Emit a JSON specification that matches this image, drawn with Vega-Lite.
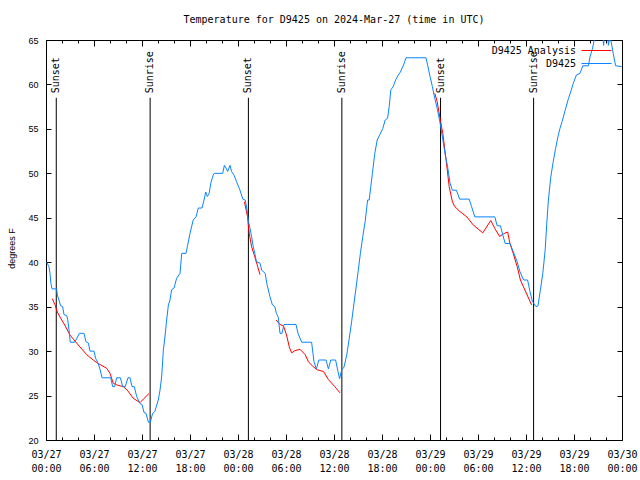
{
  "$schema": "https://vega.github.io/schema/vega-lite/v6.json",
  "width": 576,
  "height": 400,
  "autosize": {"type": "none"},
  "padding": {"left": 46, "top": 40, "right": 18, "bottom": 40},
  "background": "white",
  "title": {"text": "Temperature for D9425 on 2024-Mar-27 (time in UTC)", "font": "DejaVu Sans Mono", "fontSize": 10, "fontWeight": "normal", "color": "black", "offset": 11, "anchor": "middle"},
  "config": {
    "view": {"stroke": "black", "strokeWidth": 1},
    "axis": {"domain": false, "grid": false, "tickColor": "black", "labelColor": "black", "titleColor": "black"}
  },
  "datasets": {
    "sun": [
      {"t": "2024-03-27T01:17:00Z", "label": "Sunset"},
      {"t": "2024-03-27T13:01:00Z", "label": "Sunrise"},
      {"t": "2024-03-28T01:18:00Z", "label": "Sunset"},
      {"t": "2024-03-28T12:59:00Z", "label": "Sunrise"},
      {"t": "2024-03-29T01:19:00Z", "label": "Sunset"},
      {"t": "2024-03-29T12:57:00Z", "label": "Sunrise"}
    ],
    "ana": [
      {"t": "2024-03-27T00:47:00Z", "v": 35.9, "seg": "a"},
      {"t": "2024-03-27T01:08:00Z", "v": 35.2, "seg": "a"},
      {"t": "2024-03-27T01:25:00Z", "v": 34.4, "seg": "a"},
      {"t": "2024-03-27T01:50:00Z", "v": 33.7, "seg": "a"},
      {"t": "2024-03-27T02:22:00Z", "v": 32.9, "seg": "a"},
      {"t": "2024-03-27T03:00:00Z", "v": 31.8, "seg": "a"},
      {"t": "2024-03-27T03:50:00Z", "v": 30.9, "seg": "a"},
      {"t": "2024-03-27T05:05:00Z", "v": 29.6, "seg": "a"},
      {"t": "2024-03-27T05:54:00Z", "v": 29.0, "seg": "a"},
      {"t": "2024-03-27T06:32:00Z", "v": 28.6, "seg": "a"},
      {"t": "2024-03-27T07:35:00Z", "v": 28.07, "seg": "a"},
      {"t": "2024-03-27T08:00:00Z", "v": 27.5, "seg": "a"},
      {"t": "2024-03-27T08:24:00Z", "v": 26.4, "seg": "a"},
      {"t": "2024-03-27T08:50:00Z", "v": 26.2, "seg": "a"},
      {"t": "2024-03-27T09:40:00Z", "v": 26.0, "seg": "a"},
      {"t": "2024-03-27T10:10:00Z", "v": 25.6, "seg": "a"},
      {"t": "2024-03-27T10:54:00Z", "v": 24.7, "seg": "a"},
      {"t": "2024-03-27T11:45:00Z", "v": 24.2, "seg": "a"},
      {"t": "2024-03-27T12:10:00Z", "v": 24.6, "seg": "a"},
      {"t": "2024-03-27T12:54:00Z", "v": 25.25, "seg": "a"},
      {"t": "2024-03-28T00:48:00Z", "v": 46.8, "seg": "b"},
      {"t": "2024-03-28T01:12:00Z", "v": 45.1, "seg": "b"},
      {"t": "2024-03-28T01:24:00Z", "v": 43.25, "seg": "b"},
      {"t": "2024-03-28T01:42:00Z", "v": 41.75, "seg": "b"},
      {"t": "2024-03-28T02:06:00Z", "v": 40.6, "seg": "b"},
      {"t": "2024-03-28T02:24:00Z", "v": 39.7, "seg": "b"},
      {"t": "2024-03-28T02:45:00Z", "v": 38.6, "seg": "b"},
      {"t": "2024-03-28T04:45:00Z", "v": 33.5, "seg": "c"},
      {"t": "2024-03-28T05:15:00Z", "v": 33.0, "seg": "c"},
      {"t": "2024-03-28T05:42:00Z", "v": 32.8, "seg": "c"},
      {"t": "2024-03-28T06:06:00Z", "v": 31.7, "seg": "c"},
      {"t": "2024-03-28T06:24:00Z", "v": 30.5, "seg": "c"},
      {"t": "2024-03-28T06:42:00Z", "v": 29.8, "seg": "c"},
      {"t": "2024-03-28T07:06:00Z", "v": 30.05, "seg": "c"},
      {"t": "2024-03-28T07:45:00Z", "v": 30.2, "seg": "c"},
      {"t": "2024-03-28T08:24:00Z", "v": 29.6, "seg": "c"},
      {"t": "2024-03-28T08:48:00Z", "v": 28.8, "seg": "c"},
      {"t": "2024-03-28T09:24:00Z", "v": 28.25, "seg": "c"},
      {"t": "2024-03-28T09:54:00Z", "v": 27.9, "seg": "c"},
      {"t": "2024-03-28T10:42:00Z", "v": 27.7, "seg": "c"},
      {"t": "2024-03-28T11:18:00Z", "v": 26.8, "seg": "c"},
      {"t": "2024-03-28T12:06:00Z", "v": 26.0, "seg": "c"},
      {"t": "2024-03-28T12:45:00Z", "v": 25.3, "seg": "c"},
      {"t": "2024-03-29T00:36:00Z", "v": 59.0, "seg": "d"},
      {"t": "2024-03-29T00:54:00Z", "v": 58.05, "seg": "d"},
      {"t": "2024-03-29T01:15:00Z", "v": 56.2, "seg": "d"},
      {"t": "2024-03-29T01:36:00Z", "v": 54.5, "seg": "d"},
      {"t": "2024-03-29T02:00:00Z", "v": 51.6, "seg": "d"},
      {"t": "2024-03-29T02:24:00Z", "v": 48.5, "seg": "d"},
      {"t": "2024-03-29T02:48:00Z", "v": 46.8, "seg": "d"},
      {"t": "2024-03-29T03:06:00Z", "v": 46.25, "seg": "d"},
      {"t": "2024-03-29T03:45:00Z", "v": 45.7, "seg": "d"},
      {"t": "2024-03-29T04:36:00Z", "v": 45.1, "seg": "d"},
      {"t": "2024-03-29T05:24:00Z", "v": 44.2, "seg": "d"},
      {"t": "2024-03-29T06:36:00Z", "v": 43.3, "seg": "d"},
      {"t": "2024-03-29T07:36:00Z", "v": 44.7, "seg": "d"},
      {"t": "2024-03-29T08:06:00Z", "v": 43.8, "seg": "d"},
      {"t": "2024-03-29T08:42:00Z", "v": 42.9, "seg": "d"},
      {"t": "2024-03-29T09:12:00Z", "v": 43.2, "seg": "d"},
      {"t": "2024-03-29T09:42:00Z", "v": 43.4, "seg": "d"},
      {"t": "2024-03-29T10:00:00Z", "v": 42.1, "seg": "d"},
      {"t": "2024-03-29T10:24:00Z", "v": 41.0, "seg": "d"},
      {"t": "2024-03-29T10:54:00Z", "v": 39.5, "seg": "d"},
      {"t": "2024-03-29T11:18:00Z", "v": 38.0, "seg": "d"},
      {"t": "2024-03-29T11:45:00Z", "v": 37.1, "seg": "d"},
      {"t": "2024-03-29T12:12:00Z", "v": 36.2, "seg": "d"},
      {"t": "2024-03-29T12:42:00Z", "v": 35.2, "seg": "d"}
    ],
    "obs": [
      {"t": "2024-03-27T00:05:00Z", "v": 40},
      {"t": "2024-03-27T00:22:00Z", "v": 39.5},
      {"t": "2024-03-27T00:30:00Z", "v": 38.75},
      {"t": "2024-03-27T00:37:00Z", "v": 37.6},
      {"t": "2024-03-27T00:45:00Z", "v": 37},
      {"t": "2024-03-27T01:20:00Z", "v": 37},
      {"t": "2024-03-27T01:25:00Z", "v": 36.3},
      {"t": "2024-03-27T01:37:00Z", "v": 35.75},
      {"t": "2024-03-27T01:50:00Z", "v": 35.1},
      {"t": "2024-03-27T02:05:00Z", "v": 35},
      {"t": "2024-03-27T02:15:00Z", "v": 34.1},
      {"t": "2024-03-27T02:35:00Z", "v": 34},
      {"t": "2024-03-27T02:42:00Z", "v": 33.6},
      {"t": "2024-03-27T02:52:00Z", "v": 32.45},
      {"t": "2024-03-27T03:02:00Z", "v": 31},
      {"t": "2024-03-27T03:35:00Z", "v": 31},
      {"t": "2024-03-27T03:50:00Z", "v": 31.4},
      {"t": "2024-03-27T04:10:00Z", "v": 32},
      {"t": "2024-03-27T04:45:00Z", "v": 32},
      {"t": "2024-03-27T05:00:00Z", "v": 31.06},
      {"t": "2024-03-27T05:18:00Z", "v": 30.9},
      {"t": "2024-03-27T05:30:00Z", "v": 30},
      {"t": "2024-03-27T06:00:00Z", "v": 30},
      {"t": "2024-03-27T06:12:00Z", "v": 29.2},
      {"t": "2024-03-27T06:32:00Z", "v": 28.6},
      {"t": "2024-03-27T06:45:00Z", "v": 27.95},
      {"t": "2024-03-27T07:00:00Z", "v": 27},
      {"t": "2024-03-27T08:05:00Z", "v": 27},
      {"t": "2024-03-27T08:20:00Z", "v": 26},
      {"t": "2024-03-27T08:35:00Z", "v": 26},
      {"t": "2024-03-27T08:50:00Z", "v": 27},
      {"t": "2024-03-27T09:18:00Z", "v": 27},
      {"t": "2024-03-27T09:35:00Z", "v": 26},
      {"t": "2024-03-27T09:54:00Z", "v": 26},
      {"t": "2024-03-27T10:15:00Z", "v": 27},
      {"t": "2024-03-27T10:30:00Z", "v": 27},
      {"t": "2024-03-27T10:45:00Z", "v": 26},
      {"t": "2024-03-27T11:02:00Z", "v": 26},
      {"t": "2024-03-27T11:20:00Z", "v": 24.9},
      {"t": "2024-03-27T11:45:00Z", "v": 24.1},
      {"t": "2024-03-27T12:00:00Z", "v": 24},
      {"t": "2024-03-27T12:15:00Z", "v": 23.1},
      {"t": "2024-03-27T12:30:00Z", "v": 23},
      {"t": "2024-03-27T12:48:00Z", "v": 22},
      {"t": "2024-03-27T13:02:00Z", "v": 22},
      {"t": "2024-03-27T13:20:00Z", "v": 23},
      {"t": "2024-03-27T13:36:00Z", "v": 23.2},
      {"t": "2024-03-27T14:02:00Z", "v": 24.5},
      {"t": "2024-03-27T14:15:00Z", "v": 25.6},
      {"t": "2024-03-27T14:28:00Z", "v": 27.2},
      {"t": "2024-03-27T14:40:00Z", "v": 30.1},
      {"t": "2024-03-27T14:52:00Z", "v": 31.6},
      {"t": "2024-03-27T15:05:00Z", "v": 33.5},
      {"t": "2024-03-27T15:18:00Z", "v": 35.2},
      {"t": "2024-03-27T15:30:00Z", "v": 35.75},
      {"t": "2024-03-27T15:42:00Z", "v": 36.9},
      {"t": "2024-03-27T16:00:00Z", "v": 37.1},
      {"t": "2024-03-27T16:20:00Z", "v": 38.2},
      {"t": "2024-03-27T16:45:00Z", "v": 38.75},
      {"t": "2024-03-27T16:58:00Z", "v": 41},
      {"t": "2024-03-27T17:30:00Z", "v": 41},
      {"t": "2024-03-27T17:40:00Z", "v": 41.75},
      {"t": "2024-03-27T18:00:00Z", "v": 43.25},
      {"t": "2024-03-27T18:24:00Z", "v": 44.75},
      {"t": "2024-03-27T18:45:00Z", "v": 45.1},
      {"t": "2024-03-27T19:02:00Z", "v": 46.1},
      {"t": "2024-03-27T19:30:00Z", "v": 46.1},
      {"t": "2024-03-27T19:45:00Z", "v": 47},
      {"t": "2024-03-27T19:58:00Z", "v": 47.9},
      {"t": "2024-03-27T20:10:00Z", "v": 47.4},
      {"t": "2024-03-27T20:24:00Z", "v": 47.75},
      {"t": "2024-03-27T20:36:00Z", "v": 48.9},
      {"t": "2024-03-27T20:54:00Z", "v": 49.8},
      {"t": "2024-03-27T21:02:00Z", "v": 50},
      {"t": "2024-03-27T22:05:00Z", "v": 50},
      {"t": "2024-03-27T22:18:00Z", "v": 50.9},
      {"t": "2024-03-27T22:30:00Z", "v": 50.6},
      {"t": "2024-03-27T22:42:00Z", "v": 50.2},
      {"t": "2024-03-27T23:00:00Z", "v": 50.9},
      {"t": "2024-03-27T23:12:00Z", "v": 50.2},
      {"t": "2024-03-27T23:30:00Z", "v": 49.8},
      {"t": "2024-03-27T23:48:00Z", "v": 49.1},
      {"t": "2024-03-28T00:15:00Z", "v": 48.1},
      {"t": "2024-03-28T00:36:00Z", "v": 47.1},
      {"t": "2024-03-28T00:54:00Z", "v": 47},
      {"t": "2024-03-28T01:06:00Z", "v": 46.1},
      {"t": "2024-03-28T01:18:00Z", "v": 44.6},
      {"t": "2024-03-28T01:30:00Z", "v": 43.8},
      {"t": "2024-03-28T01:42:00Z", "v": 42.9},
      {"t": "2024-03-28T01:54:00Z", "v": 41.75},
      {"t": "2024-03-28T02:06:00Z", "v": 41},
      {"t": "2024-03-28T02:18:00Z", "v": 40.06},
      {"t": "2024-03-28T02:45:00Z", "v": 39.9},
      {"t": "2024-03-28T02:58:00Z", "v": 39.1},
      {"t": "2024-03-28T03:24:00Z", "v": 38.75},
      {"t": "2024-03-28T03:36:00Z", "v": 37.6},
      {"t": "2024-03-28T04:00:00Z", "v": 36.1},
      {"t": "2024-03-28T04:18:00Z", "v": 35.2},
      {"t": "2024-03-28T04:36:00Z", "v": 35},
      {"t": "2024-03-28T04:48:00Z", "v": 34.25},
      {"t": "2024-03-28T05:02:00Z", "v": 33.8},
      {"t": "2024-03-28T05:15:00Z", "v": 32},
      {"t": "2024-03-28T05:30:00Z", "v": 32},
      {"t": "2024-03-28T05:45:00Z", "v": 33},
      {"t": "2024-03-28T07:15:00Z", "v": 33},
      {"t": "2024-03-28T07:30:00Z", "v": 32},
      {"t": "2024-03-28T07:58:00Z", "v": 31},
      {"t": "2024-03-28T09:12:00Z", "v": 31},
      {"t": "2024-03-28T09:30:00Z", "v": 28.8},
      {"t": "2024-03-28T09:48:00Z", "v": 28},
      {"t": "2024-03-28T10:06:00Z", "v": 29},
      {"t": "2024-03-28T11:00:00Z", "v": 29},
      {"t": "2024-03-28T11:18:00Z", "v": 28},
      {"t": "2024-03-28T11:36:00Z", "v": 29},
      {"t": "2024-03-28T12:12:00Z", "v": 29},
      {"t": "2024-03-28T12:30:00Z", "v": 27.7},
      {"t": "2024-03-28T12:42:00Z", "v": 26.9},
      {"t": "2024-03-28T12:58:00Z", "v": 27.9},
      {"t": "2024-03-28T13:15:00Z", "v": 28.2},
      {"t": "2024-03-28T13:36:00Z", "v": 29.6},
      {"t": "2024-03-28T13:54:00Z", "v": 31.4},
      {"t": "2024-03-28T14:12:00Z", "v": 33.3},
      {"t": "2024-03-28T14:30:00Z", "v": 35.4},
      {"t": "2024-03-28T14:45:00Z", "v": 37.1},
      {"t": "2024-03-28T15:02:00Z", "v": 39.1},
      {"t": "2024-03-28T15:18:00Z", "v": 41},
      {"t": "2024-03-28T15:36:00Z", "v": 42.9},
      {"t": "2024-03-28T15:54:00Z", "v": 44.6},
      {"t": "2024-03-28T16:12:00Z", "v": 47},
      {"t": "2024-03-28T16:24:00Z", "v": 47},
      {"t": "2024-03-28T16:36:00Z", "v": 48.5},
      {"t": "2024-03-28T16:48:00Z", "v": 50},
      {"t": "2024-03-28T17:06:00Z", "v": 52.25},
      {"t": "2024-03-28T17:24:00Z", "v": 53.75},
      {"t": "2024-03-28T17:45:00Z", "v": 54.4},
      {"t": "2024-03-28T18:06:00Z", "v": 55.05},
      {"t": "2024-03-28T18:24:00Z", "v": 56},
      {"t": "2024-03-28T18:42:00Z", "v": 56.2},
      {"t": "2024-03-28T18:54:00Z", "v": 57.5},
      {"t": "2024-03-28T19:06:00Z", "v": 59.4},
      {"t": "2024-03-28T19:24:00Z", "v": 59.75},
      {"t": "2024-03-28T19:42:00Z", "v": 60.5},
      {"t": "2024-03-28T20:02:00Z", "v": 61.06},
      {"t": "2024-03-28T20:18:00Z", "v": 61.4},
      {"t": "2024-03-28T20:42:00Z", "v": 62.2},
      {"t": "2024-03-28T21:00:00Z", "v": 63},
      {"t": "2024-03-28T23:30:00Z", "v": 63},
      {"t": "2024-03-28T23:42:00Z", "v": 62.2},
      {"t": "2024-03-29T00:00:00Z", "v": 60.9},
      {"t": "2024-03-29T00:18:00Z", "v": 59.75},
      {"t": "2024-03-29T00:36:00Z", "v": 58.4},
      {"t": "2024-03-29T00:54:00Z", "v": 57.3},
      {"t": "2024-03-29T01:15:00Z", "v": 55.7},
      {"t": "2024-03-29T01:36:00Z", "v": 53.8},
      {"t": "2024-03-29T01:54:00Z", "v": 52.1},
      {"t": "2024-03-29T02:12:00Z", "v": 50.75},
      {"t": "2024-03-29T02:30:00Z", "v": 48.9},
      {"t": "2024-03-29T02:48:00Z", "v": 48.1},
      {"t": "2024-03-29T03:18:00Z", "v": 48.1},
      {"t": "2024-03-29T03:42:00Z", "v": 47.1},
      {"t": "2024-03-29T04:54:00Z", "v": 47.1},
      {"t": "2024-03-29T05:12:00Z", "v": 46.25},
      {"t": "2024-03-29T05:36:00Z", "v": 45.1},
      {"t": "2024-03-29T08:06:00Z", "v": 45.1},
      {"t": "2024-03-29T08:24:00Z", "v": 44.1},
      {"t": "2024-03-29T08:48:00Z", "v": 44.1},
      {"t": "2024-03-29T09:06:00Z", "v": 43.06},
      {"t": "2024-03-29T09:24:00Z", "v": 42.1},
      {"t": "2024-03-29T10:00:00Z", "v": 42.1},
      {"t": "2024-03-29T10:24:00Z", "v": 41.2},
      {"t": "2024-03-29T10:54:00Z", "v": 40.06},
      {"t": "2024-03-29T11:15:00Z", "v": 38.9},
      {"t": "2024-03-29T11:42:00Z", "v": 38},
      {"t": "2024-03-29T12:12:00Z", "v": 38},
      {"t": "2024-03-29T12:30:00Z", "v": 36.7},
      {"t": "2024-03-29T12:48:00Z", "v": 35.6},
      {"t": "2024-03-29T13:15:00Z", "v": 35},
      {"t": "2024-03-29T13:30:00Z", "v": 35.1},
      {"t": "2024-03-29T13:48:00Z", "v": 36.9},
      {"t": "2024-03-29T14:06:00Z", "v": 38.75},
      {"t": "2024-03-29T14:24:00Z", "v": 41.4},
      {"t": "2024-03-29T14:36:00Z", "v": 44.4},
      {"t": "2024-03-29T14:48:00Z", "v": 47},
      {"t": "2024-03-29T15:06:00Z", "v": 49.6},
      {"t": "2024-03-29T15:24:00Z", "v": 51.3},
      {"t": "2024-03-29T15:42:00Z", "v": 52.8},
      {"t": "2024-03-29T16:02:00Z", "v": 54.3},
      {"t": "2024-03-29T16:15:00Z", "v": 55.06},
      {"t": "2024-03-29T16:30:00Z", "v": 55.8},
      {"t": "2024-03-29T16:54:00Z", "v": 57.1},
      {"t": "2024-03-29T17:18:00Z", "v": 58.4},
      {"t": "2024-03-29T17:36:00Z", "v": 59.2},
      {"t": "2024-03-29T17:54:00Z", "v": 60.1},
      {"t": "2024-03-29T18:18:00Z", "v": 61.06},
      {"t": "2024-03-29T18:45:00Z", "v": 61.25},
      {"t": "2024-03-29T19:06:00Z", "v": 62.1},
      {"t": "2024-03-29T19:48:00Z", "v": 62.1},
      {"t": "2024-03-29T20:00:00Z", "v": 63.1},
      {"t": "2024-03-29T20:18:00Z", "v": 64},
      {"t": "2024-03-29T20:36:00Z", "v": 65.3},
      {"t": "2024-03-29T21:36:00Z", "v": 65.5},
      {"t": "2024-03-29T21:42:00Z", "v": 64.4},
      {"t": "2024-03-29T21:48:00Z", "v": 65.5},
      {"t": "2024-03-29T22:12:00Z", "v": 65.5},
      {"t": "2024-03-29T22:18:00Z", "v": 64.4},
      {"t": "2024-03-29T22:30:00Z", "v": 65.5},
      {"t": "2024-03-29T22:54:00Z", "v": 63.5},
      {"t": "2024-03-29T23:12:00Z", "v": 62.1},
      {"t": "2024-03-29T23:59:00Z", "v": 62}
    ]
  },
  "layer": [
    {
      "data": {"name": "sun"},
      "mark": {"type": "rule", "color": "black", "strokeWidth": 1},
      "encoding": {
        "x": {"field": "t", "type": "temporal",
          "scale": {"type": "utc", "domain": [1711497600000, 1711756800000]},
          "axis": {"orient": "bottom", "title": null,
            "values": [1711497600000, 1711504800000, 1711512000000, 1711519200000, 1711526400000, 1711533600000, 1711540800000, 1711548000000, 1711555200000, 1711562400000, 1711569600000, 1711576800000, 1711584000000, 1711591200000, 1711598400000, 1711605600000, 1711612800000, 1711620000000, 1711627200000, 1711634400000, 1711641600000, 1711648800000, 1711656000000, 1711663200000, 1711670400000, 1711677600000, 1711684800000, 1711692000000, 1711699200000, 1711706400000, 1711713600000, 1711720800000, 1711728000000, 1711735200000, 1711742400000, 1711749600000, 1711756800000],
            "labelExpr": "utchours(datum.value) % 6 == 0 ? [utcFormat(datum.value, '%m/%d'), utcFormat(datum.value, '%H:%M')] : ''",
            "tickSize": -3,
            "labelPadding": 12, "labelFont": "DejaVu Sans Mono", "labelFontSize": 10,
            "labelLineHeight": 14, "labelBaseline": "top",
            "labelOverlap": false, "labelBound": false, "labelFlush": false}},
        "y": {"datum": 58.5, "type": "quantitative",
          "scale": {"domain": [20, 65], "nice": false, "zero": false},
          "axis": {"orient": "left", "title": "degrees F", "values": [20, 25, 30, 35, 40, 45, 50, 55, 60, 65],
            "tickSize": -5, "labelPadding": 13, "labelFont": "Liberation Sans", "labelFontSize": 9,
            "titleFont": "Liberation Sans", "titleFontSize": 9, "titleFontWeight": "normal",
            "titleAngle": 270, "titleAlign": "center", "titleBaseline": "middle", "titleX": -35, "titleY": 208}},
        "y2": {"datum": 20}
      }
    },
    {
      "data": {"name": "sun"},
      "mark": {"type": "text", "angle": 270, "align": "left", "baseline": "middle", "font": "DejaVu Sans Mono", "fontSize": 10, "color": "black"},
      "encoding": {
        "x": {"field": "t", "type": "temporal",
          "axis": {"orient": "bottom", "title": null, "labels": false, "tickSize": -6,
            "values": [1711497600000, 1711519200000, 1711540800000, 1711562400000, 1711584000000, 1711605600000, 1711627200000, 1711648800000, 1711670400000, 1711692000000, 1711713600000, 1711735200000, 1711756800000]}},
        "y": {"datum": 59.0, "type": "quantitative", "axis": null},
        "text": {"field": "label"}
      }
    },
    {
      "data": {"name": "ana"},
      "mark": {"type": "line", "strokeWidth": 1, "clip": true},
      "encoding": {
        "x": {"field": "t", "type": "temporal",
          "axis": {"orient": "top", "title": null, "labels": false,
            "values": [1711497600000, 1711504800000, 1711512000000, 1711519200000, 1711526400000, 1711533600000, 1711540800000, 1711548000000, 1711555200000, 1711562400000, 1711569600000, 1711576800000, 1711584000000, 1711591200000, 1711598400000, 1711605600000, 1711612800000, 1711620000000, 1711627200000, 1711634400000, 1711641600000, 1711648800000, 1711656000000, 1711663200000, 1711670400000, 1711677600000, 1711684800000, 1711692000000, 1711699200000, 1711706400000, 1711713600000, 1711720800000, 1711728000000, 1711735200000, 1711742400000, 1711749600000, 1711756800000],
            "tickSize": -3}},
        "y": {"field": "v", "type": "quantitative",
          "axis": {"orient": "right", "title": null, "labels": false, "values": [20, 25, 30, 35, 40, 45, 50, 55, 60, 65], "tickSize": -5}},
        "detail": {"field": "seg"},
        "color": {"datum": "D9425 Analysis",
          "scale": {"domain": ["D9425 Analysis", "D9425"], "range": ["#ff0000", "#0a84ff"]},
          "legend": {"title": null, "orient": "none", "legendX": 545, "legendY": 5, "padding": 0,
            "symbolType": "M -3 0 L 3 0", "symbolSize": 100, "symbolStrokeWidth": 1,
            "labelAlign": "right", "labelOffset": -26, "labelFont": "DejaVu Sans Mono", "labelFontSize": 10, "labelColor": "black",
            "rowPadding": 2}}
      }
    },
    {
      "data": {"name": "obs"},
      "mark": {"type": "line", "strokeWidth": 1, "clip": true},
      "encoding": {
        "x": {"field": "t", "type": "temporal",
          "axis": {"orient": "top", "title": null, "labels": false, "tickSize": -6,
            "values": [1711497600000, 1711519200000, 1711540800000, 1711562400000, 1711584000000, 1711605600000, 1711627200000, 1711648800000, 1711670400000, 1711692000000, 1711713600000, 1711735200000, 1711756800000]}},
        "y": {"field": "v", "type": "quantitative", "axis": null},
        "color": {"datum": "D9425"}
      }
    }
  ],
  "resolve": {"axis": {"x": "independent", "y": "independent"}}
}
